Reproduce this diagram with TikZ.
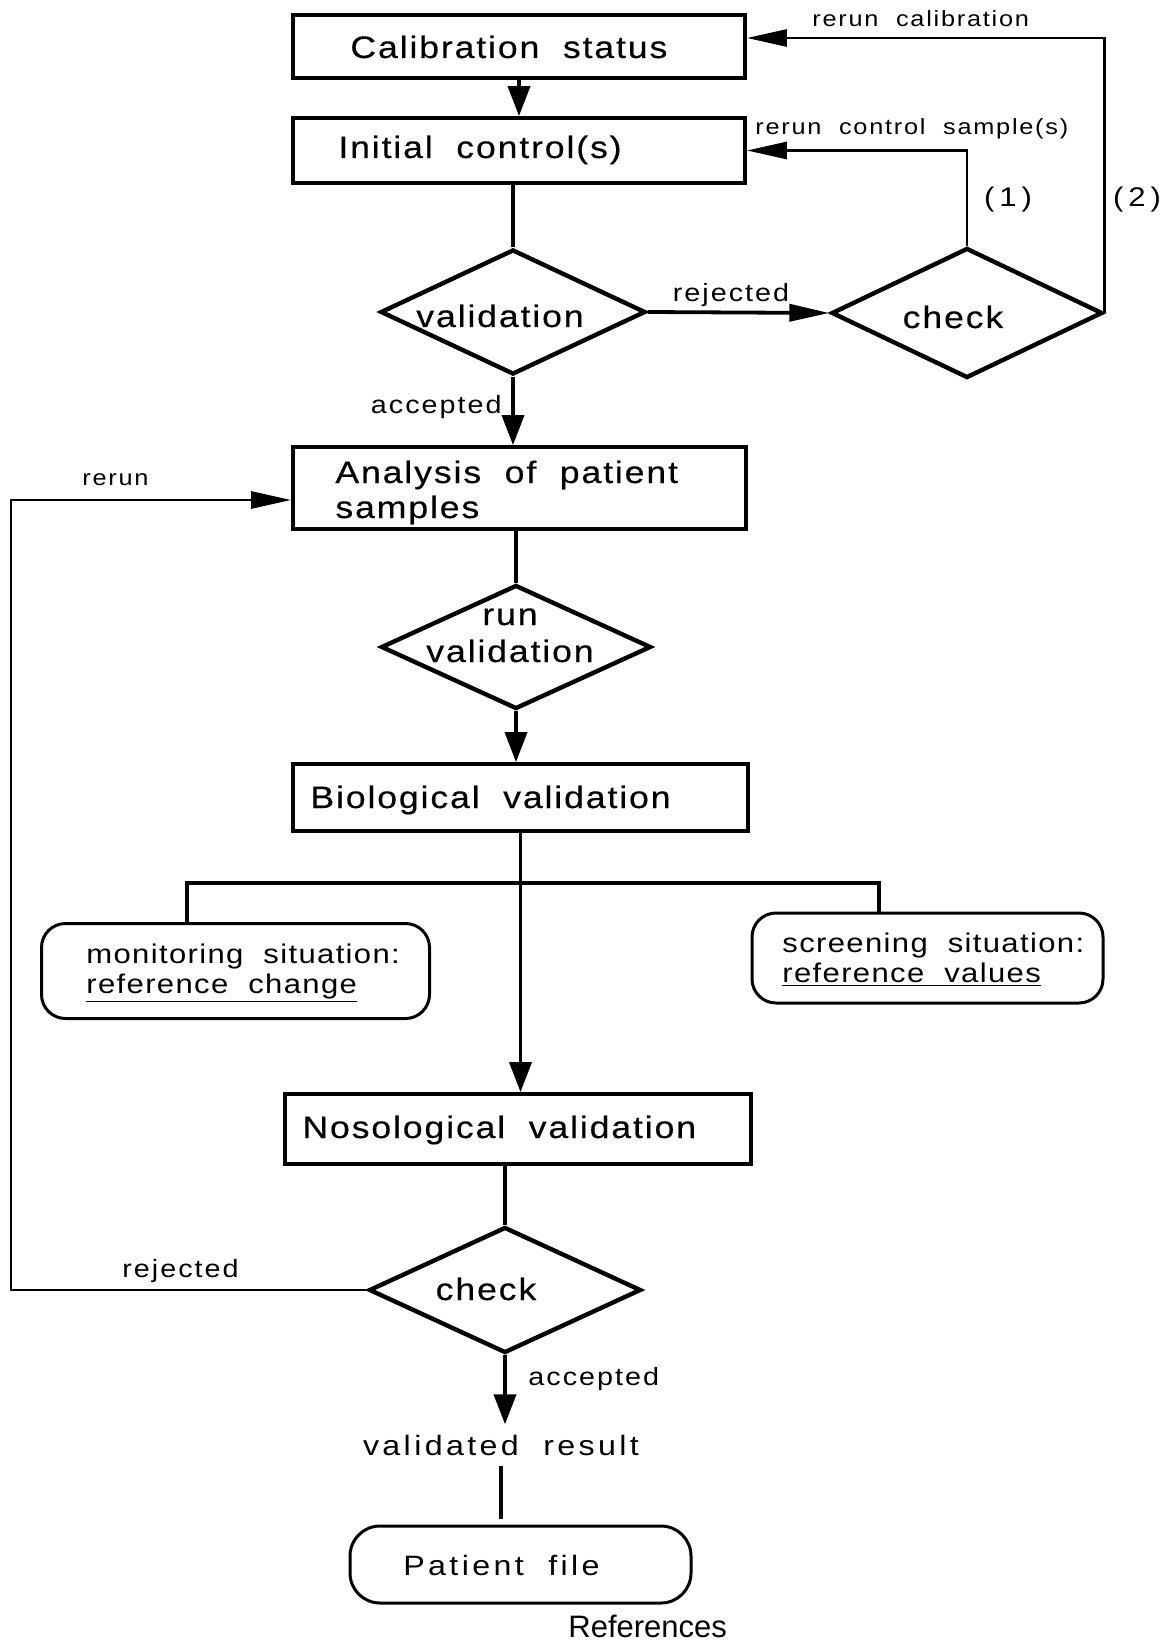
\documentclass[tikz,border=0pt]{standalone}
\usepackage{fontspec}
\setmainfont{Liberation Sans}
\newfontfamily\fbx[FakeStretch=1.15,LetterSpace=6,WordSpace=2,FakeBold=0.4]{Liberation Sans}
\newfontfamily\flb[FakeStretch=1.15,LetterSpace=8,WordSpace=2]{Liberation Sans}
\newfontfamily\fsit[FakeStretch=1.15,LetterSpace=5,WordSpace=2]{Liberation Sans}
\newfontfamily\flo[FakeStretch=1.15,LetterSpace=12,WordSpace=2]{Liberation Sans}
\usetikzlibrary{shapes.geometric,arrows.meta}
\begin{document}
\begin{tikzpicture}[x=0.5pt,y=-0.5pt,
  box/.style={draw, rectangle, line width=1.9pt, inner sep=0pt},
  dia/.style={draw, diamond, line width=2.2pt, inner sep=0pt},
  rbox/.style={draw, rectangle, rounded corners=12pt, line width=1.5pt, inner sep=0pt},
  conn/.style={line width=1.9pt},
  side/.style={line width=1.4pt},
  varr/.style={-{Triangle[length=15pt,width=11pt]}},
  harr/.style={-{Triangle[length=20pt,width=8.5pt]}},
  btxt/.style={inner sep=0pt, font=\fbx\fontsize{15.5}{17.5}\selectfont},
  ltxt/.style={inner sep=0pt, font=\flb\fontsize{11}{13}\selectfont},
  mtxt/.style={inner sep=0pt, font=\flb\fontsize{12.5}{14}\selectfont},
  stxt/.style={inner sep=0pt, align=left, font=\fsit\fontsize{13.5}{15}\selectfont},
  otxt/.style={font=\flo\fontsize{14}{16}\selectfont}
]
\useasboundingbox (0,0) rectangle (1166,1642);

% boxes
\node[box, minimum width=226pt, minimum height=31.5pt] (calib) at (519,46.5) {};
\node[btxt, anchor=base west] (calibT) at (350,58) {Calibration status};
\node[box, minimum width=226pt, minimum height=32.5pt] (init) at (519,150.5) {};
\node[btxt, anchor=base west] (initT) at (338,158) {Initial control(s)};

\node[dia, minimum width=132.5pt, minimum height=62.5pt] (valid) at (513,312) {};
\node[btxt, anchor=base] (validT) at (500,327) {validation};
\node[dia, minimum width=135.5pt, minimum height=65pt] (check) at (967,313) {};
\node[btxt, anchor=base] (checkT) at (953,328) {check};

\node[box, minimum width=226.5pt, minimum height=41pt] (ana) at (519.5,488) {};
\node[btxt, anchor=base west, align=left] (anaT) at (335,518) {Analysis of patient\\samples};

\node[dia, minimum width=135pt, minimum height=62pt] (run) at (516,647) {};
\node[btxt, anchor=base, align=center, font=\fbx\fontsize{15.5}{18.5}\selectfont] (runT) at (510,662) {run\\validation};

\node[box, minimum width=227.5pt, minimum height=33.5pt] (bio) at (520.5,797.5) {};
\node[btxt, anchor=base west] (bioT) at (310,808) {Biological validation};

\node[rbox, minimum width=194pt, minimum height=47.5pt] (mon) at (235.5,971) {};
\node[stxt, anchor=base west] (monT) at (86,993) {monitoring situation:\\\underline{reference change}};
\node[rbox, minimum width=175.5pt, minimum height=45pt] (scr) at (927.5,958) {};
\node[stxt, anchor=base west] (scrT) at (782,982) {screening situation:\\\underline{reference values}};

\node[box, minimum width=233pt, minimum height=35pt] (nosol) at (518,1129) {};
\node[btxt, anchor=base west] (nosolT) at (302,1138) {Nosological validation};

\node[dia, minimum width=136pt, minimum height=63pt] (check2) at (505,1290) {};
\node[btxt, anchor=base] (check2T) at (486,1300) {check};

\node[otxt, anchor=base, inner sep=5pt] (result) at (501,1455) {validated result};

\node[draw, rectangle, rounded corners=15pt, line width=1.5pt, inner sep=0pt,
      minimum width=170.5pt, minimum height=38.5pt] (patient) at (520.5,1564.5) {};
\node[otxt, anchor=base west, inner sep=0pt] (patientT) at (403,1575) {Patient file};

\node[anchor=base west, inner sep=0pt, font=\fontsize{15.5}{17}\selectfont] (refs) at (568,1637) {References};

% labels
\node[ltxt, anchor=base west] (lrc) at (812,27) {rerun calibration};
\node[ltxt, anchor=base west] (lrcs) at (755,135) {rerun control sample(s)};
\node[inner sep=0pt, font=\flb\fontsize{13.5}{15}\selectfont] (lone) at (1008,200) {(\kern2.5pt1\kern2.5pt)};
\node[inner sep=0pt, font=\flb\fontsize{13.5}{15}\selectfont] (ltwo) at (1137,200) {(\kern2.5pt2\kern2.5pt)};
\node[mtxt, anchor=base] (lrej) at (731,302) {rejected};
\node[mtxt, anchor=base east] (lacc) at (502,413) {accepted};
\node[ltxt, anchor=base west] (lrerun) at (82,485) {rerun};
\node[mtxt, anchor=base west] (lrej2) at (122,1277) {rejected};
\node[mtxt, anchor=base west] (lacc2) at (528,1385) {accepted};

% coordinates
\coordinate (c2) at (1103,38);
\coordinate (c6) at (11,500);
\coordinate (b1) at (187,883);
\coordinate (b2) at (879,883);

% connectors
\draw[conn,varr] (calib.south) -- (init.north);
\draw[conn] (valid.north |- init.south) -- (valid.north);
\draw[conn,harr] (valid.east) -- (check.west);
\draw[side,harr] (check.north) |- (init.east);
\draw[side,harr] (check.east) -- (check.east |- c2) -- (c2 -| calib.east);
\draw[conn,varr] (valid.south) -- (valid.south |- ana.north);
\draw[side,harr] (check2.west) -| (c6) -- (c6 -| ana.west);
\draw[conn] (run.north |- ana.south) -- (run.north);
\draw[conn,varr] (run.south) -- (run.south |- bio.north);
\draw[conn,varr] (bio.south) -- (bio.south |- nosol.north);
\draw[conn] (b1 |- mon.north) -- (b1) -- (b2) -- (b2 |- scr.north);
\draw[conn] (check2.north |- nosol.south) -- (check2.north);
\draw[conn,varr] (check2.south) -- (check2.south |- result.north);
\draw[conn,shorten >=3pt] (result.south) -- (result.south |- patient.north);
\end{tikzpicture}
\end{document}
